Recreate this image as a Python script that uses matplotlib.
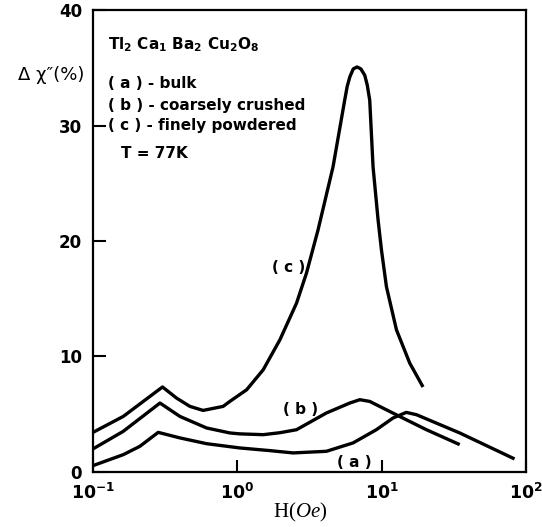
import matplotlib
matplotlib.use("Agg")
import matplotlib.pyplot as plt

plt.rcParams['mathtext.fontset'] = 'custom'
plt.rcParams['mathtext.rm'] = 'DejaVu Sans:bold'
plt.rcParams['mathtext.bf'] = 'DejaVu Sans:bold'
plt.rcParams['mathtext.it'] = 'Liberation Serif:italic'
plt.rcParams['mathtext.default'] = 'rm'

# curve (a) - bulk
H_a = [0.1, 0.162, 0.211, 0.283, 0.40, 0.612, 1.04, 1.68, 2.43, 4.14, 6.34, 9.18, 12.0, 14.8, 17.4, 34.7, 83.2]
chi_a = [0.55, 1.50, 2.22, 3.43, 2.95, 2.45, 2.08, 1.85, 1.65, 1.79, 2.52, 3.66, 4.68, 5.16, 4.96, 3.38, 1.13]

# curve (b) - coarsely crushed
H_b = [0.1, 0.162, 0.291, 0.40, 0.612, 0.887, 1.04, 1.51, 1.97, 2.57, 4.14, 6.01, 7.05, 8.26, 13.3, 20.4, 34.7]
chi_b = [2.00, 3.52, 5.97, 4.81, 3.81, 3.38, 3.30, 3.23, 3.40, 3.66, 5.11, 5.97, 6.26, 6.11, 4.81, 3.66, 2.37]

# curve (c) - finely powdered
H_c = [0.1, 0.162, 0.303, 0.379, 0.469, 0.579, 0.797, 0.887, 1.16, 1.51, 1.97, 2.57, 3.01, 3.62, 4.60,
       5.54, 5.77, 6.01, 6.35, 6.75, 7.17, 7.63, 7.94, 8.26, 8.71, 9.44, 9.96, 10.78, 12.65, 15.63, 19.33]
chi_c = [3.43, 4.81, 7.36, 6.40, 5.68, 5.33, 5.68, 6.11, 7.12, 8.85, 11.44, 14.62, 17.21, 20.95, 26.42,
         32.19, 33.4, 34.20, 34.9, 35.07, 34.9, 34.35, 33.5, 32.19, 26.42, 21.81, 19.22, 16.05, 12.31, 9.43, 7.36]

ytick_vals = [0, 10, 20, 30, 40]
xtick_vals = [0.1, 1, 10, 100]
xtick_labels = [r'$10^{-1}$', r'$10^{0}$', r'$10^{1}$', r'$10^{2}$']

fig = plt.figure(figsize=(5.42, 5.27), dpi=100)
ax = fig.add_axes([0.1716, 0.1044, 0.799, 0.8766])

for H, chi in [(H_a, chi_a), (H_b, chi_b), (H_c, chi_c)]:
    ax.plot(H, chi, color='black', lw=2.4, solid_capstyle='butt', solid_joinstyle='round')

ax.set_xscale('log')
ax.set_xlim(0.1, 100)
ax.set_ylim(0, 40)
ax.set_xticks(xtick_vals)
ax.set_xticklabels(xtick_labels, fontsize=12.5)
ax.minorticks_off()
ax.set_yticks(ytick_vals)
ax.set_yticklabels([str(v) for v in ytick_vals], fontsize=12, fontweight='bold')
ax.tick_params(direction='in', length=9, width=1.5, pad=8)
for s in ax.spines.values():
    s.set_linewidth(1.6)

txt = dict(fontsize=11, fontweight='bold', family='DejaVu Sans', transform=ax.transAxes, va='center')
ax.text(0.035, 0.924, r'Tl$_{2}$ Ca$_{1}$ Ba$_{2}$ Cu$_{2}$O$_{8}$', **txt)
ax.text(0.035, 0.842, '( a ) - bulk', **txt)
ax.text(0.035, 0.794, '( b ) - coarsely crushed', **txt)
ax.text(0.035, 0.751, '( c ) - finely powdered', **txt)
ax.text(0.065, 0.690, 'T = 77K', **txt)

lab = dict(fontsize=11, fontweight='bold', va='center', ha='center')
ax.text(2.26, 17.7, '( c )', **lab)
ax.text(2.74, 5.4, '( b )', **lab)
ax.text(6.5, 0.85, '( a )', **lab)

fig.text(0.033, 0.858, 'Δ χ″(%)', fontsize=13, va='center', ha='left')
fig.text(0.553, 0.028, r'H($\mathit{Oe}$)', fontsize=15, family='Liberation Serif', va='center', ha='center')

fig.savefig('out.png', dpi=100)
